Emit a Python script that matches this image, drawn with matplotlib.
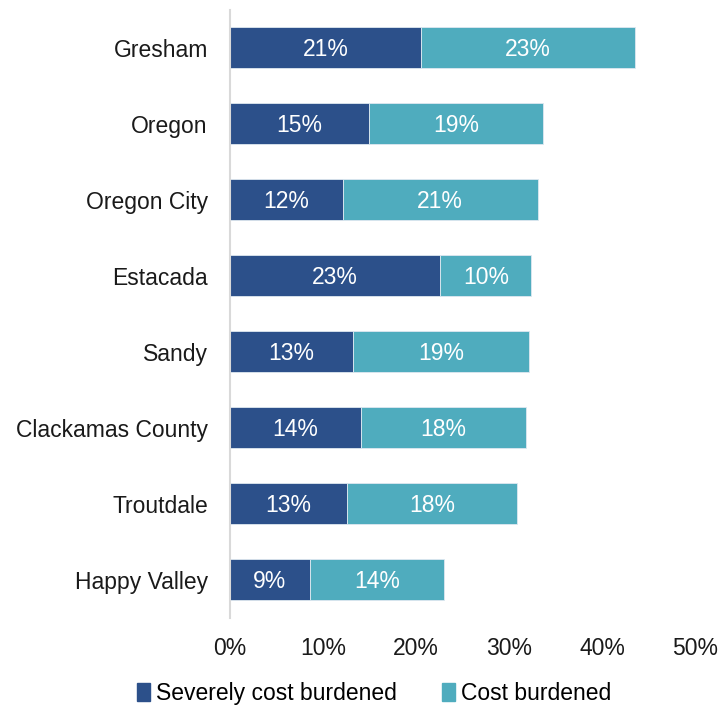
import matplotlib
matplotlib.use("Agg")
import matplotlib.pyplot as plt
from matplotlib.patches import Patch
from decimal import Decimal, ROUND_HALF_UP

places = ["Gresham", "Oregon", "Oregon City", "Estacada", "Sandy",
          "Clackamas County", "Troutdale", "Happy Valley"]
severe = [20.5, 14.9, 12.1, 22.6, 13.2, 14.1, 12.6, 8.6]
burdened = [23.0, 18.8, 21.0, 9.8, 19.0, 17.7, 18.3, 14.4]
series_names = ["Severely cost burdened", "Cost burdened"]
xticks = [0, 10, 20, 30, 40, 50]

dark = "#2C508A"
light = "#4FACBE"
text_color = "#1a1a1a"

plt.rcParams["font.family"] = ["Liberation Sans", "DejaVu Sans"]

fig = plt.figure(figsize=(7.21, 7.09), dpi=100)
ax = fig.add_axes([0.319, 0.1284, 0.645, 0.8576])

y = list(range(len(places)))
h = 0.54
ax.barh(y, severe, height=h, color=dark, edgecolor="#dfe8f0", linewidth=0.6)
ax.barh(y, burdened, left=severe, height=h, color=light, edgecolor="#dfe8f0", linewidth=0.6)


def pct(v):
    return f"{Decimal(str(v)).quantize(Decimal('1'), rounding=ROUND_HALF_UP)}%"


for yi, s, b in zip(y, severe, burdened):
    ax.text(s / 2, yi + 0.02, pct(s), ha="center", va="center", color="white", fontsize=16.5)
    ax.text(s + b / 2, yi + 0.02, pct(b), ha="center", va="center", color="white", fontsize=16.5)

ax.set_xlim(0, 50)
ax.set_ylim(len(places) - 0.5, -0.5)
ax.set_yticks(y)
ax.set_yticklabels(places, fontsize=16.5, color=text_color)
ax.set_xticks(xticks)
ax.set_xticklabels([f"{t}%" for t in xticks], fontsize=16.5, color=text_color)
ax.tick_params(axis="y", length=0, pad=16)
ax.tick_params(axis="x", length=0, pad=14)
for side in ["top", "right", "bottom"]:
    ax.spines[side].set_visible(False)
ax.spines["left"].set_color("#d9d9d9")
ax.spines["left"].set_linewidth(1.5)

handles = [Patch(color=dark), Patch(color=light)]
fig.legend(handles, series_names, loc="center", bbox_to_anchor=(0.519, 0.022),
           ncol=2, frameon=False, fontsize=16.5, handlelength=0.55, handleheight=0.8,
           handletextpad=0.25, columnspacing=2.0)

fig.savefig("out.png", dpi=100)
